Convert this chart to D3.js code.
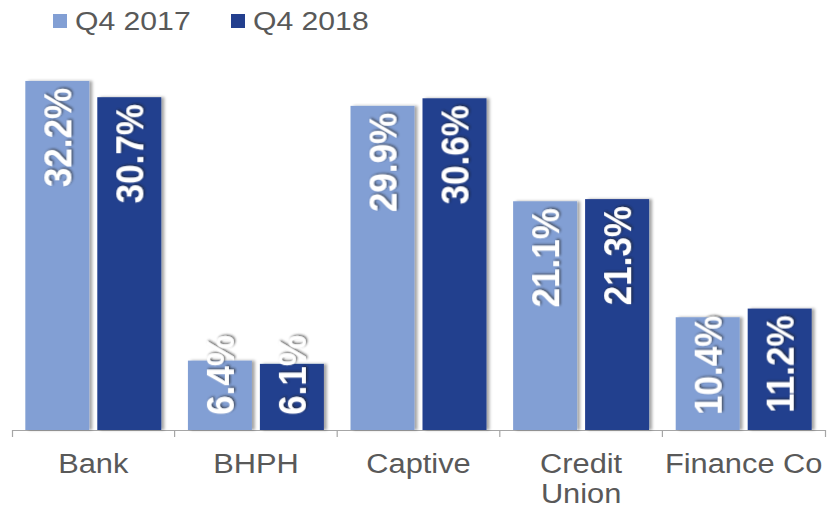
<!DOCTYPE html>
<html>
<head>
<meta charset="utf-8">
<script src="https://cdn.jsdelivr.net/npm/d3@7"></script>
<style>
  body { margin: 0; background: #fff; }
  text { font-family: "Liberation Sans", Arial, sans-serif; }
</style>
</head>
<body>
<div id="chart"></div>
<script>
// chart data
var categories = ['Bank', 'BHPH', 'Captive', 'Credit Union', 'Finance Co'];
var seriesNames = ['Q4 2017', 'Q4 2018'];
var q4_2017 = [32.2, 6.4, 29.9, 21.1, 10.4];
var q4_2018 = [30.7, 6.1, 30.6, 21.3, 11.2];
var colors = ['#829fd4', '#233f8e'];

var width = 828, height = 508;
var baseY = 430;
var stretch = 1.1; // source text looks a bit wide

var svg = d3.select('#chart').append('svg')
  .attr('width', width)
  .attr('height', height);

var defs = svg.append('defs');
defs.append('filter').attr('id', 'barShadow')
  .attr('x', '-10%').attr('width', '130%')
  .append('feDropShadow')
  .attr('dx', 3).attr('dy', 0).attr('stdDeviation', 1.6)
  .attr('flood-color', '#000').attr('flood-opacity', 0.35);
defs.append('filter').attr('id', 'textShadow')
  .append('feDropShadow')
  .attr('dx', 1.2).attr('dy', 1.2).attr('stdDeviation', 0.8)
  .attr('flood-color', '#222').attr('flood-opacity', 0.7);

var rows = categories.map((c, i) => ({cat: c, vals: [q4_2017[i], q4_2018[i]]}));

var x0 = d3.scaleBand().domain(categories).range([12, 825]);
var x1 = d3.scaleBand().domain(seriesNames)
  .range([0, x0.bandwidth()])
  .paddingInner(0.111)
  .paddingOuter(0.185);
var y = d3.scaleLinear().domain([0, 35]).range([baseY, baseY - 35 * 10.84]);

// axis line with outer ticks
svg.append('g')
  .attr('transform', `translate(0,${baseY})`)
  .call(d3.axisBottom(x0).tickSize(0).tickSizeOuter(7).tickFormat(''))
  .call(g => g.select('.domain').attr('stroke', '#a6a6a6').attr('stroke-width', 1.2));

// inner boundary ticks
svg.selectAll('.sep')
  .data(categories.slice(1))
  .enter().append('line')
  .attr('x1', d => x0(d)).attr('x2', d => x0(d))
  .attr('y1', baseY).attr('y2', baseY + 7)
  .attr('stroke', '#a6a6a6').attr('stroke-width', 1.2);

var groups = svg.selectAll('.grp')
  .data(rows)
  .enter().append('g')
  .attr('transform', d => `translate(${x0(d.cat)},0)`);

groups.selectAll('rect')
  .data(d => d.vals.map((v, i) => ({s: seriesNames[i], v: v, i: i})))
  .enter().append('rect')
  .attr('x', d => x1(d.s))
  .attr('y', d => y(d.v))
  .attr('width', x1.bandwidth())
  .attr('height', d => baseY - y(d.v))
  .attr('fill', d => colors[d.i])
  .attr('filter', 'url(#barShadow)');

// value labels, rotated, inside end
groups.selectAll('.val')
  .data(d => d.vals.map((v, i) => ({s: seriesNames[i], v: v, i: i})))
  .enter().append('text')
  .attr('class', 'val')
  .attr('fill', '#fff')
  .attr('font-weight', 'bold')
  .attr('font-size', 35)
  .attr('text-anchor', 'end')
  .attr('filter', 'url(#textShadow)')
  .text(d => d.v.toFixed(1) + '%')
  .each(function(d) {
    var len = this.getComputedTextLength();
    var top = Math.min(y(d.v) + 7, baseY - 15 - len);
    var cx = x1(d.s) + x1.bandwidth() / 2 + 14;
    d3.select(this).attr('transform', `translate(${cx},${top}) scale(${stretch},1) rotate(-90)`);
  });

// category labels, wrapped if too wide
svg.selectAll('.cat')
  .data(categories)
  .enter().append('text')
  .attr('class', 'cat')
  .attr('fill', '#595959')
  .attr('font-size', 28)
  .attr('text-anchor', 'middle')
  .attr('transform', d => `translate(${x0(d) + x0.bandwidth() / 2},473) scale(${stretch},1)`)
  .each(function(d) {
    var t = d3.select(this);
    t.text(d);
    if (this.getComputedTextLength() * stretch > x0.bandwidth() - 4) {
      t.text(null);
      d.split(' ').forEach((w, i) => {
        t.append('tspan').attr('x', 0).attr('dy', i ? 30 : 0).text(w);
      });
    }
  });

// legend
var legendX = [53, 231];
var legend = svg.selectAll('.leg')
  .data(seriesNames)
  .enter().append('g')
  .attr('transform', (d, i) => `translate(${legendX[i]},0)`);
legend.append('rect')
  .attr('x', 0).attr('y', 14)
  .attr('width', 14).attr('height', 14)
  .attr('fill', (d, i) => colors[i]);
legend.append('text')
  .attr('transform', `translate(22,30) scale(1.16,1)`)
  .attr('fill', '#595959')
  .attr('font-size', 26)
  .text(d => d);
</script>
</body>
</html>
